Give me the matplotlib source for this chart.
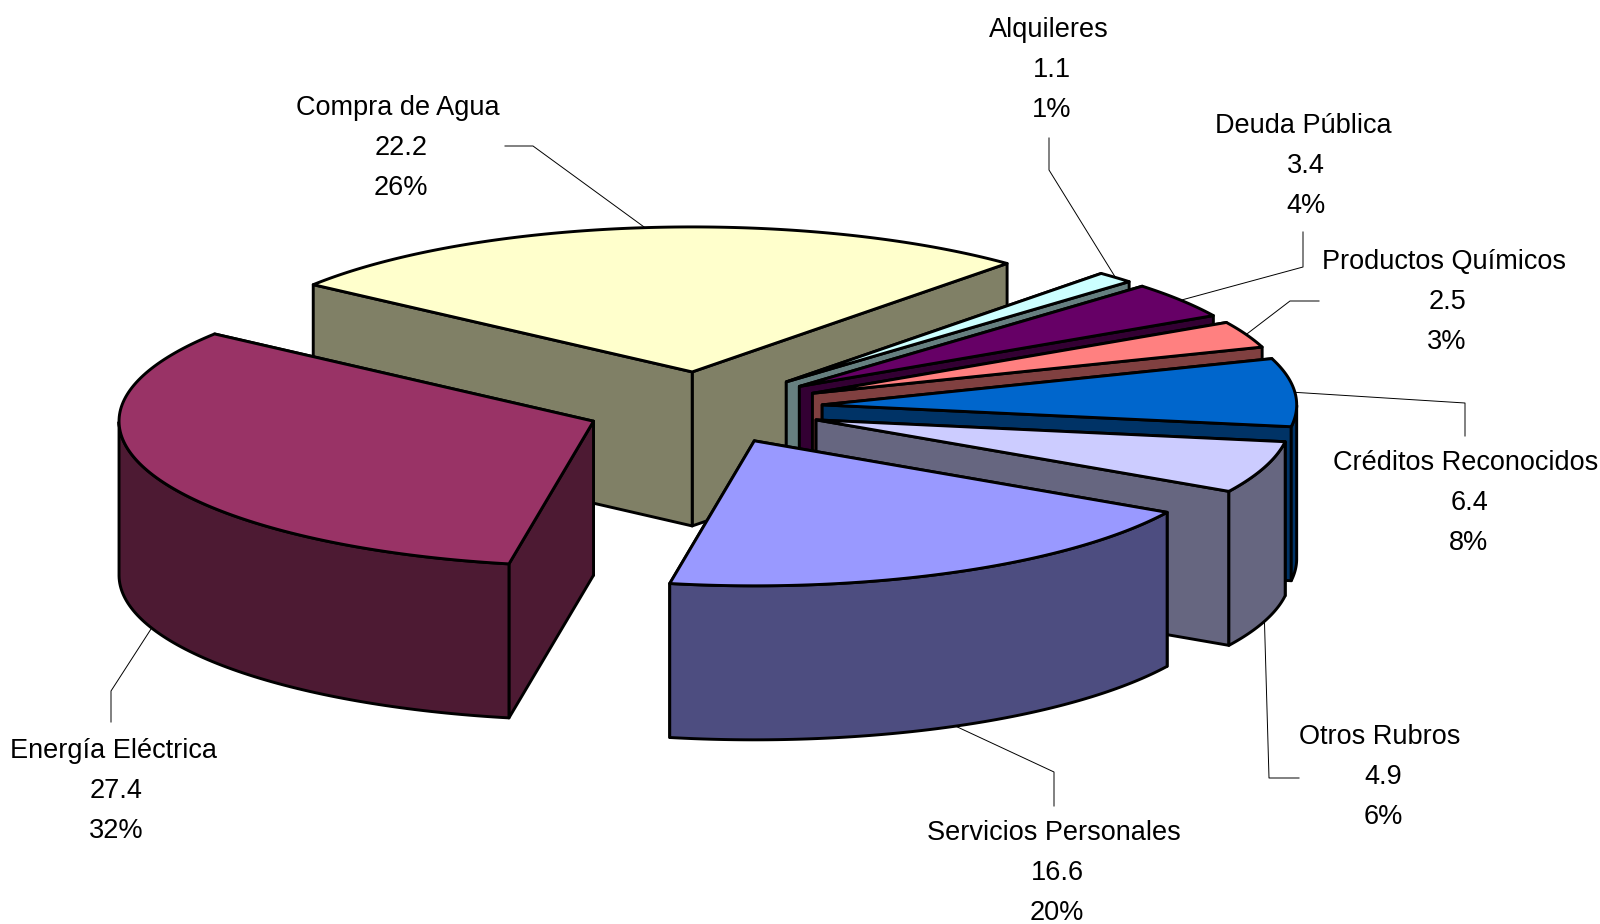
import numpy as np
import matplotlib
matplotlib.use('Agg')
import matplotlib.pyplot as plt
from matplotlib.patches import Polygon

plt.rcParams['font.family'] = ['Liberation Sans']

# drawn back to front, clockwise from the top left
rubros = ['Compra de Agua', 'Alquileres', 'Deuda Pública', 'Productos Químicos',
          'Créditos Reconocidos', 'Otros Rubros', 'Servicios Personales', 'Energía Eléctrica']
valores = [22.2, 1.1, 3.4, 2.5, 6.4, 4.9, 16.6, 27.4]
tapas = ['#FFFFCC', '#CCFFFF', '#660066', '#FF8080', '#0066CC', '#CCCCFF', '#9999FF', '#993366']
paredes = ['#808066', '#668080', '#330033', '#804040', '#003366', '#666680', '#4D4D80', '#4D1A33']

# label position and leader elbow / end, in pixels
label_x = [398, 1049, 1303, 1444, 1466, 1380, 1054, 113]
label_y = [108, 30, 126, 262, 463, 737, 833, 751]
codo = [(533, 146), (1049, 170), (1303, 267), (1290, 301), (1465, 403), (1269, 778), (1054, 772), (111, 691)]
fin = [(505, 146), (1049, 138), (1303, 232), (1319, 301), (1465, 436), (1299, 778), (1054, 806), (111, 722)]

CX, CY = 704, 408      # pie centre
A, B = 474.5, 145      # ellipse radii
H = 154                # wall height
EXPLODE = 0.25
START = 143.0          # degrees, ccw from +x
LW = 2.1
FS = 19.5

fig = plt.figure(figsize=(16, 9.24), dpi=100)
ax = fig.add_axes([0, 0, 1, 1])
ax.set_xlim(0, 1600)
ax.set_ylim(924, 0)
ax.axis('off')

total = sum(valores)


def cara(puntos, color):
    ax.add_patch(Polygon(puntos, closed=True, facecolor=color, edgecolor='black',
                         linewidth=LW, joinstyle='round'))


ang = START
for i in range(len(valores)):
    barrido = valores[i] / total * 360
    t0, t1 = ang, ang - barrido
    ang = t1
    medio = np.radians((t0 + t1) / 2)
    ox = CX + EXPLODE * A * np.cos(medio)
    oy = CY - EXPLODE * B * np.sin(medio)

    t = np.radians(np.linspace(t0, t1, 120))
    bx = ox + A * np.cos(t)
    by = oy - B * np.sin(t)

    # cut faces, the one further back first
    for k in sorted((0, -1), key=lambda n: by[n]):
        cara([(ox, oy), (bx[k], by[k]), (bx[k], by[k] + H), (ox, oy + H)], paredes[i])

    # outer wall, only where the rim faces the viewer
    frente = np.sin(t) < 0
    if frente.any():
        fx, fy = bx[frente], by[frente]
        cara(np.r_[np.c_[fx, fy], np.c_[fx[::-1], fy[::-1] + H]], paredes[i])

    # top
    cara(np.r_[[(ox, oy)], np.c_[bx, by]], tapas[i])

    # leader from the middle of the rim
    lx = ox + A * np.cos(medio)
    ly = oy - B * np.sin(medio)
    if np.sin(medio) < 0:
        ly += H
    ax.plot([lx, codo[i][0], fin[i][0]], [ly, codo[i][1], fin[i][1]],
            color='black', lw=0.7, zorder=0.5)

    # labels
    pct = '%d%%' % round(valores[i] / total * 100)
    ax.text(label_x[i], label_y[i], rubros[i], ha='center', va='center', fontsize=FS)
    ax.text(label_x[i] + 3, label_y[i] + 40, '%.1f' % valores[i], ha='center', va='center', fontsize=FS)
    ax.text(label_x[i] + 3, label_y[i] + 80, pct, ha='center', va='center', fontsize=FS)

fig.savefig('out.png', dpi=100)
